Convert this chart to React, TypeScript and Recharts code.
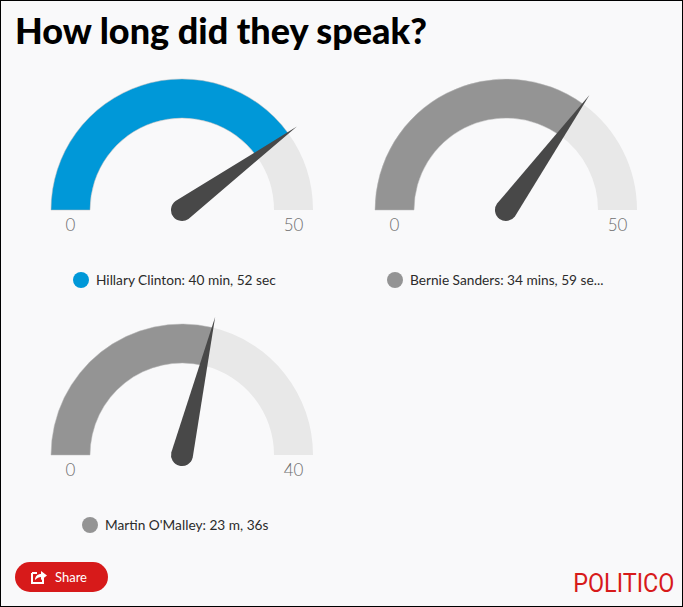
import React from "react";
import { PieChart, Pie, Cell, Legend } from "recharts";

const TITLE = "How long did they speak?";
const NAMES = ["Hillary Clinton: 40 min, 52 sec", "Bernie Sanders: 34 mins, 59 se...", "Martin O'Malley: 23 m, 36s"];
const VALUES = [40, 35, 23];
const MAXES = [50, 50, 40];
const COLORS = ["#0098d8", "#949494", "#949494"];
const LEGEND_LEFT = [53, 43, 62];
const TRACK = "#e8e8e8";
const NEEDLE = "#484848";
const FONT = "Lato, sans-serif";

const W = 324;
const H = 240;
const CX = 162;
const CY = 140;
const OUTER = 131;
const INNER = 92;
const TIP = 142;
const HUB = 11;

const Needle = (p: any) => {
  if (p.index !== 0) return <g />;
  const rad = (p.endAngle * Math.PI) / 180;
  const ux = Math.cos(rad);
  const uy = -Math.sin(rad);
  const nx = -uy;
  const ny = ux;
  const tx = p.cx + ux * p.outerRadius;
  const ty = p.cy + uy * p.outerRadius;
  const ax = p.cx + nx * HUB;
  const ay = p.cy + ny * HUB;
  const bx = p.cx - nx * HUB;
  const by = p.cy - ny * HUB;
  return (
    <path
      d={`M${tx} ${ty} L${ax} ${ay} A${HUB} ${HUB} 0 1 1 ${bx} ${by} Z`}
      fill={NEEDLE}
    />
  );
};

const Gauge = ({ i, left, top }: { i: number; left: number; top: number }) => {
  const data = [
    { name: NAMES[i], value: VALUES[i] },
    { name: "rest", value: MAXES[i] - VALUES[i] },
  ];
  const legendContent = () => (
    <div style={{ display: "flex", alignItems: "center", paddingLeft: LEGEND_LEFT[i], fontFamily: FONT, fontSize: 13.7, color: "#2b2b2b", whiteSpace: "nowrap" }}>
      <span style={{ width: 16, height: 16, borderRadius: 8, background: COLORS[i], marginRight: 7, flex: "none" }} />
      <span>{NAMES[i]}</span>
    </div>
  );
  return (
    <div style={{ position: "absolute", left, top }}>
      <PieChart width={W} height={H} margin={{ top: 0, right: 0, bottom: 0, left: 0 }}>
        <Pie
          data={data}
          dataKey="value"
          cx={CX}
          cy={CY}
          startAngle={180}
          endAngle={0}
          innerRadius={INNER}
          outerRadius={OUTER}
          stroke="none"
          isAnimationActive={false}
          legendType="none"
        >
          <Cell fill={COLORS[i]} stroke="#b8b8b8" strokeWidth={0.5} />
          <Cell fill={TRACK} />
        </Pie>
        <Pie
          data={data}
          dataKey="value"
          cx={CX}
          cy={CY}
          startAngle={180}
          endAngle={0}
          innerRadius={0}
          outerRadius={TIP}
          stroke="none"
          isAnimationActive={false}
          legendType="none"
          shape={Needle}
        />
        <text x={CX - 111.5} y={CY + 21} textAnchor="middle" fontFamily={FONT} fontSize={17} fontWeight={300} fill="#6e6e6e">0</text>
        <text x={CX + 111.5} y={CY + 21} textAnchor="middle" fontFamily={FONT} fontSize={17} fontWeight={300} fill="#6e6e6e">{MAXES[i]}</text>
        <Legend
          content={legendContent}
          wrapperStyle={{ position: "absolute", left: 0, top: 201, width: W, bottom: "auto" }}
        />
      </PieChart>
    </div>
  );
};

export default function App() {
  return (
    <div style={{ position: "absolute", left: 0, top: 0, width: 683, height: 607, boxSizing: "border-box", border: "1px solid #000", background: "#f9f9fa", overflow: "hidden" }}>
      <div style={{ position: "absolute", left: 14, top: 9, fontFamily: FONT, fontWeight: 900, fontSize: 36, color: "#000", whiteSpace: "nowrap", lineHeight: "40px" }}>{TITLE}</div>
      <Gauge i={0} left={19} top={69} />
      <Gauge i={1} left={343} top={69} />
      <Gauge i={2} left={19} top={314} />
      <div style={{ position: "absolute", left: 14, top: 561, width: 93, height: 30, borderRadius: 15, background: "#d71a1a", color: "#fff", fontFamily: FONT, fontSize: 13, display: "flex", alignItems: "center" }}>
        <svg width="18" height="16" viewBox="0 0 18 16" style={{ marginLeft: 15, marginRight: 7 }}>
          <path d="M2 4 H7 M2 4 V14 H13 V9" fill="none" stroke="#fff" strokeWidth="2" />
          <path d="M5 11 C5 7 8 5 11 5 V2 L17 6.5 L11 11 V8 C9 8 7 9 5 11 Z" fill="#fff" />
        </svg>
        Share
      </div>
      <div style={{ position: "absolute", right: 8, top: 567, fontFamily: "Roboto, sans-serif", fontWeight: 400, fontSize: 26, color: "#d71a1a", lineHeight: "30px", transform: "scaleX(0.9)", transformOrigin: "right center" }}>POLITICO</div>
    </div>
  );
}
